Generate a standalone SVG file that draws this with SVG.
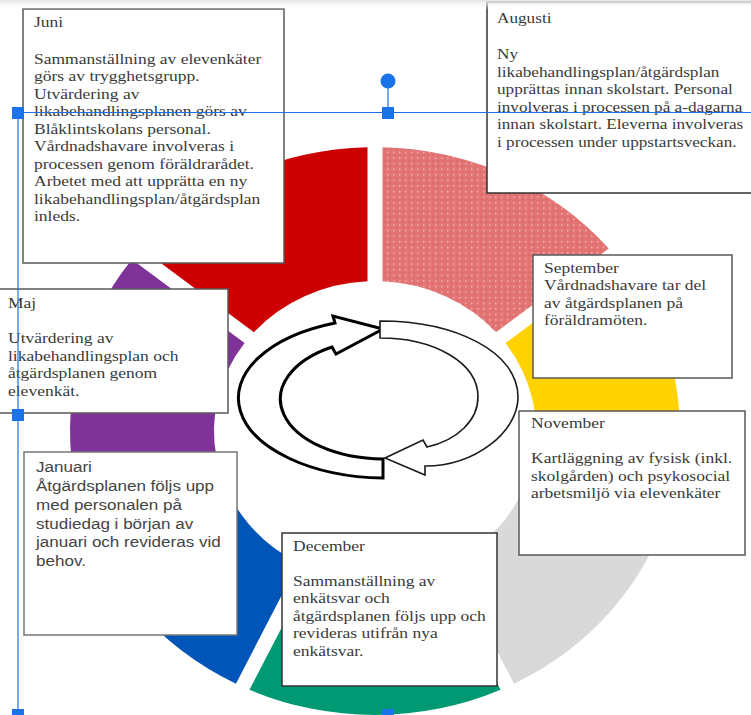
<svg xmlns="http://www.w3.org/2000/svg" width="751" height="715" viewBox="0 0 751 715">
<defs>
<style>
.bx{fill:#fff;stroke:#595959;stroke-width:1.5}
.sf{font-family:"Liberation Serif","Times New Roman",serif;font-size:15.5px;fill:#3a3a3a}
.ss{font-family:"Liberation Sans",Arial,sans-serif;font-size:15.5px;fill:#444}
.sel{stroke:#1a73e8;stroke-width:1.2;fill:none}
.hd{fill:#1a73e8}
</style>
<pattern id="dots" width="6" height="6" patternUnits="userSpaceOnUse">
<rect width="6" height="6" fill="#E37474"/>
<rect x="0" y="0" width="1.5" height="1.5" fill="#F1B4B4"/>
<rect x="3" y="3" width="1" height="1" fill="#D85A5A"/>
</pattern>
<linearGradient id="topg" x1="0" y1="0" x2="0" y2="1">
<stop offset="0" stop-color="#e4e4e4"/>
<stop offset="1" stop-color="#ffffff" stop-opacity="0"/>
</linearGradient>
</defs>
<rect width="751" height="715" fill="#fff"/>
<g id="ring" transform="translate(375 431) scale(1 0.931)">
<path id="seg-aug" fill="url(#dots)" d="M 7.5 -304.91 A 305 305 0 0 1 233.71 -195.97 L 121.06 -106.14 A 161 161 0 0 0 7.5 -160.83 Z"/>
<path id="seg-sep" fill="#FFD200" d="M 243.06 -184.24 A 305 305 0 0 1 298.94 60.54 L 158.46 28.48 A 161 161 0 0 0 130.42 -94.41 Z"/>
<path id="seg-nov" fill="#D9D9D9" d="M 295.60 75.16 A 305 305 0 0 1 139.05 271.46 L 76.54 141.65 A 161 161 0 0 0 155.12 43.10 Z"/>
<path id="seg-dec" fill="#009973" d="M 125.54 277.97 A 305 305 0 0 1 -125.54 277.97 L -62.87 148.22 A 161 161 0 0 0 62.87 148.22 Z"/>
<path id="seg-jan" fill="#0055B8" d="M -139.05 271.46 A 305 305 0 0 1 -295.60 75.16 L -155.12 43.10 A 161 161 0 0 0 -76.54 141.65 Z"/>
<path id="seg-maj" fill="#7F3399" d="M -298.94 60.54 A 305 305 0 0 1 -243.06 -184.24 L -130.42 -94.41 A 161 161 0 0 0 -158.46 28.48 Z"/>
<path id="seg-jun" fill="#CC0000" d="M -233.71 -195.97 A 305 305 0 0 1 -7.5 -304.91 L -7.5 -160.83 A 161 161 0 0 0 -121.06 -106.14 Z"/>
</g>
<g id="connectors">
<path id="arrow-left" fill="#fff" stroke="#000" stroke-width="3" stroke-linejoin="miter" d="M 383 478 A 148 80 0 0 1 335 323 L 333 316 L 383 329 L 336 354 L 332 347 A 103 60 0 0 0 383 459 Z"/>
<path id="arrow-right" fill="#fff" stroke="#1a1a1a" stroke-width="1.6" d="M 380 321 C 456 321 518 352 518 397 C 518 432 475 466 425 466 L 425 475 L 385 458 L 423 440 L 427 447 C 458 440 478 420 478 397 C 478 363 435 338 380 338 Z"/>
</g>
<g id="juni">
<rect class="bx" x="23" y="9" width="261" height="254"/>
<g transform="translate(34 0) scale(1.13 1)"><text class="sf">
<tspan x="0" y="27.5">Juni</tspan>
<tspan x="0" y="64">Sammanställning av elevenkäter</tspan>
<tspan x="0" y="81.5">görs av trygghetsgrupp.</tspan>
<tspan x="0" y="99">Utvärdering av</tspan>
<tspan x="0" y="116.5">likabehandlingsplanen görs av</tspan>
<tspan x="0" y="134">Blåklintskolans personal.</tspan>
<tspan x="0" y="151.5">Vårdnadshavare involveras i</tspan>
<tspan x="0" y="169">processen genom föräldrarådet.</tspan>
<tspan x="0" y="186.5">Arbetet med att upprätta en ny</tspan>
<tspan x="0" y="204">likabehandlingsplan/åtgärdsplan</tspan>
<tspan x="0" y="221.5">inleds.</tspan>
</text></g>
</g>
<g id="augusti">
<rect class="bx" x="487" y="2" width="270" height="191" style="stroke:#333"/>
<g transform="translate(497 0) scale(1.11 1)"><text class="sf">
<tspan x="0" y="23.5">Augusti</tspan>
<tspan x="0" y="59.5">Ny</tspan>
<tspan x="0" y="77">likabehandlingsplan/åtgärdsplan</tspan>
<tspan x="0" y="94.5">upprättas innan skolstart. Personal</tspan>
<tspan x="0" y="112">involveras i processen på a-dagarna</tspan>
<tspan x="0" y="129.5">innan skolstart. Eleverna involveras</tspan>
<tspan x="0" y="147">i processen under uppstartsveckan.</tspan>
</text></g>
</g>
<g id="september">
<rect class="bx" x="533" y="255" width="199" height="123"/>
<g transform="translate(544 0) scale(1.13 1)"><text class="sf">
<tspan x="0" y="273">September</tspan>
<tspan x="0" y="290.5">Vårdnadshavare tar del</tspan>
<tspan x="0" y="308">av åtgärdsplanen på</tspan>
<tspan x="0" y="325.5">föräldramöten.</tspan>
</text></g>
</g>
<g id="november">
<rect class="bx" x="519" y="411" width="226" height="144"/>
<g transform="translate(531 0) scale(1.13 1)"><text class="sf">
<tspan x="0" y="428.5">November</tspan>
<tspan x="0" y="463.5">Kartläggning av fysisk (inkl.</tspan>
<tspan x="0" y="481">skolgården) och psykosocial</tspan>
<tspan x="0" y="498.5">arbetsmiljö via elevenkäter</tspan>
</text></g>
</g>
<g id="december">
<rect class="bx" x="282" y="533" width="215" height="153" style="stroke:#333"/>
<g transform="translate(293 0) scale(1.13 1)"><text class="sf">
<tspan x="0" y="551">December</tspan>
<tspan x="0" y="586">Sammanställning av</tspan>
<tspan x="0" y="603.5">enkätsvar och</tspan>
<tspan x="0" y="621">åtgärdsplanen följs upp och</tspan>
<tspan x="0" y="638.5">revideras utifrån nya</tspan>
<tspan x="0" y="656">enkätsvar.</tspan>
</text></g>
</g>
<g id="maj">
<rect class="bx" x="-4" y="289" width="232" height="124"/>
<g transform="translate(8 0) scale(1.13 1)"><text class="sf">
<tspan x="0" y="308">Maj</tspan>
<tspan x="0" y="343.5">Utvärdering av</tspan>
<tspan x="0" y="361">likabehandlingsplan och</tspan>
<tspan x="0" y="378.5">åtgärdsplanen genom</tspan>
<tspan x="0" y="396">elevenkät.</tspan>
</text></g>
</g>
<g id="januari">
<rect class="bx" x="24" y="452" width="213" height="183" style="stroke:#777"/>
<g transform="translate(36 0) scale(1.1 1)"><text class="ss">
<tspan x="0" y="472.5">Januari</tspan>
<tspan x="0" y="491.5">Åtgärdsplanen följs upp</tspan>
<tspan x="0" y="510">med personalen på</tspan>
<tspan x="0" y="529">studiedag i början av</tspan>
<tspan x="0" y="547.5">januari och revideras vid</tspan>
<tspan x="0" y="566">behov.</tspan>
</text></g>
</g>
<rect x="0" y="0" width="751" height="10" fill="url(#topg)"/>
<g id="selection">
<line class="sel" x1="18" y1="112.5" x2="751" y2="112.5"/>
<line class="sel" x1="18" y1="112.5" x2="18" y2="715"/>
<line class="sel" x1="388" y1="88" x2="388" y2="107"/>
<circle class="hd" cx="388" cy="81" r="7.5"/>
<rect class="hd" x="12" y="107" width="12" height="12"/>
<rect class="hd" x="382" y="107" width="12" height="12"/>
<rect class="hd" x="12" y="409" width="12" height="12"/>
<rect class="hd" x="12" y="709" width="12" height="12"/>
<rect class="hd" x="382" y="709" width="12" height="12"/>
</g>
</svg>
